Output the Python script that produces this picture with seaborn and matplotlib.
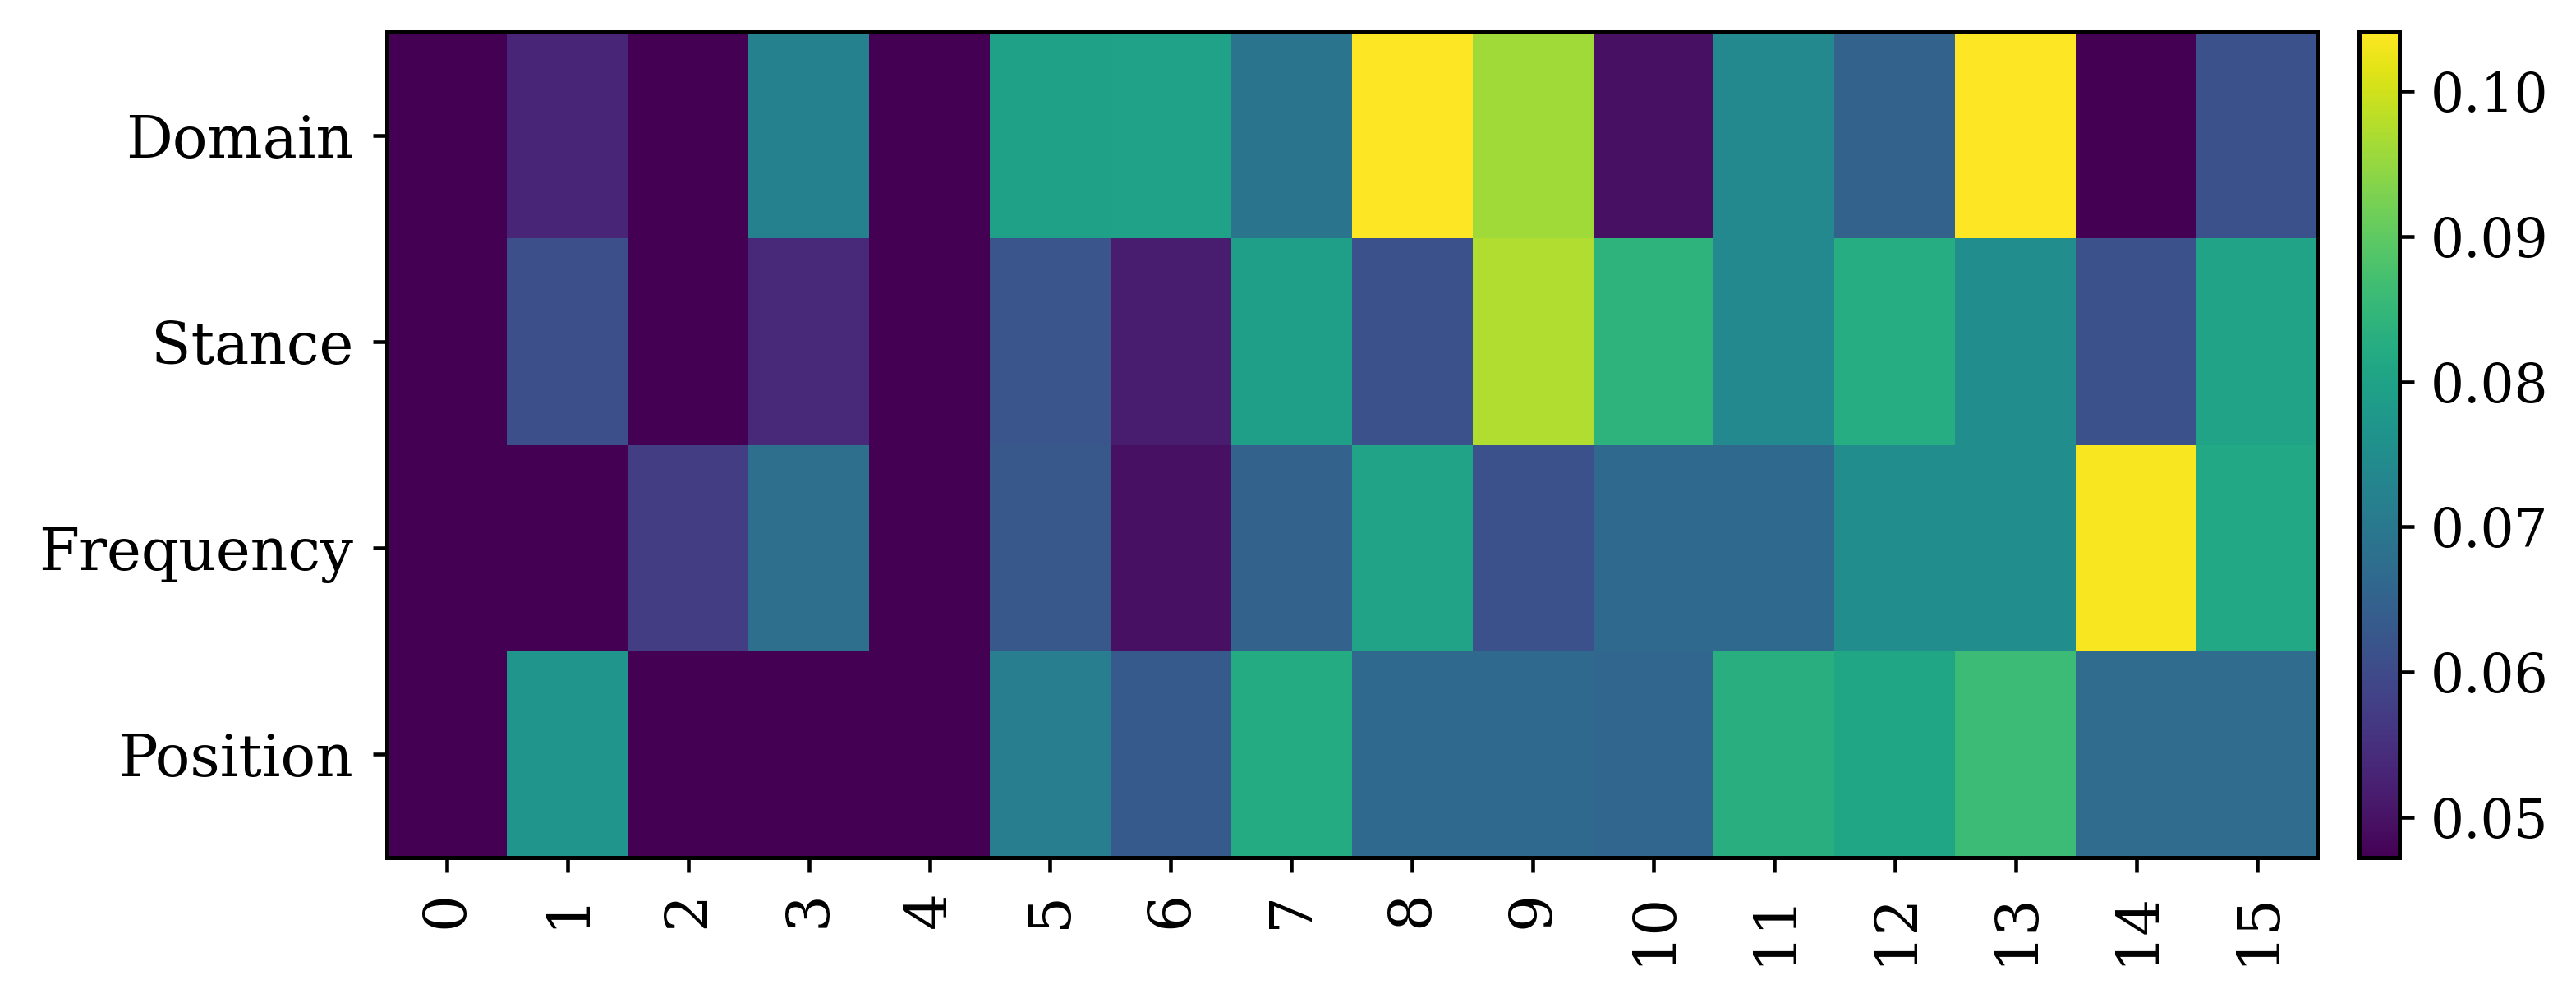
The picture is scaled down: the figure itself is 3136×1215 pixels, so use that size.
import numpy as np
import pandas as pd
import matplotlib
matplotlib.use("Agg")
import matplotlib.pyplot as plt
import seaborn as sns

rows = ["Domain", "Stance", "Frequency", "Position"]
cols = [str(i) for i in range(16)]

domain = [0.0472, 0.0530, 0.0472, 0.0720, 0.0472, 0.0796, 0.0800, 0.0690,
          0.1041, 0.0960, 0.0495, 0.0740, 0.0650, 0.1040, 0.0472, 0.0614]
stance = [0.0472, 0.0608, 0.0472, 0.0535, 0.0472, 0.0620, 0.0518, 0.0790,
          0.0614, 0.0973, 0.0840, 0.0740, 0.0825, 0.0750, 0.0614, 0.0802]
frequency = [0.0472, 0.0472, 0.0574, 0.0677, 0.0472, 0.0626, 0.0495, 0.0648,
             0.0802, 0.0614, 0.0665, 0.0665, 0.0750, 0.0750, 0.1035, 0.0813]
position = [0.0472, 0.0768, 0.0472, 0.0472, 0.0472, 0.0710, 0.0630, 0.0820,
            0.0665, 0.0665, 0.0660, 0.0831, 0.0808, 0.0859, 0.0671, 0.0671]

df = pd.DataFrame([domain, stance, frequency, position], index=rows, columns=cols)

sns.set_style("white")
plt.rcParams["font.family"] = ["DejaVu Serif"]
for k in ["text.color", "axes.labelcolor", "xtick.color", "ytick.color", "axes.edgecolor"]:
    plt.rcParams[k] = "black"

W, H = 3136, 1215
fig = plt.figure(figsize=(W / 300, H / 300), dpi=300)
ax = fig.add_axes([470.5 / W, 1 - 1044 / H, (2821 - 470.5) / W, (1044 - 39) / H])
cax = fig.add_axes([2871.5 / W, 1 - 1044 / H, 49 / W, (1044 - 39) / H])

sns.heatmap(df, cmap="viridis", ax=ax, cbar_ax=cax, square=False)

for s in ax.spines.values():
    s.set_visible(True)
    s.set_linewidth(1.2)
    s.set_color("black")
ax.tick_params(axis="both", which="both", length=4.2, width=1.1, color="black",
               labelcolor="black", labelsize=17, bottom=True, left=True, pad=5.5)
ax.set_xticklabels(cols, rotation=90)
ax.set_yticklabels(rows, rotation=0)
plt.setp(ax.get_yticklabels(), va="center_baseline")
ax.set_xlabel("")
ax.set_ylabel("")

cb = ax.collections[0].colorbar
cb.outline.set_visible(True)
cb.outline.set_linewidth(1.2)
cb.outline.set_edgecolor("black")
cb.set_ticks([0.05, 0.06, 0.07, 0.08, 0.09, 0.10])
cb.ax.tick_params(length=4.2, width=1.1, labelsize=15.5, right=True, color="black",
                  labelcolor="black", pad=5)

fig.savefig("out.png", dpi=300)
